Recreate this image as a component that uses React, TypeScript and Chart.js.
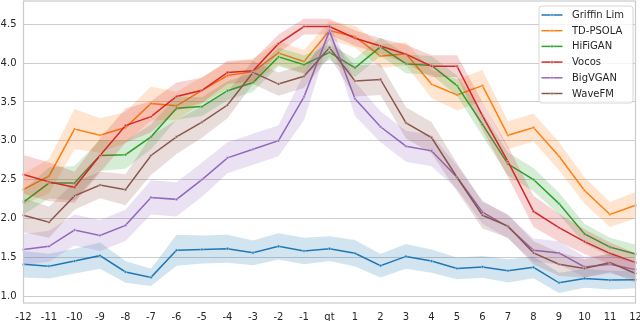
import React, { useEffect, useRef } from 'react';
import { Chart, registerables } from 'chart.js';

Chart.register(...registerables);

const categories = ['-12', '-11', '-10', '-9', '-8', '-7', '-6', '-5', '-4', '-3', '-2', '-1', 'qt', '1', '2', '3', '4', '5', '6', '7', '8', '9', '10', '11', '12'];
const yTicks = [1.0, 1.5, 2.0, 2.5, 3.0, 3.5, 4.0, 4.5];
const seriesNames = ['Griffin Lim', 'TD-PSOLA', 'HiFiGAN', 'Vocos', 'BigVGAN', 'WaveFM'];
const seriesColors = ['#1f77b4', '#ff7f0e', '#2ca02c', '#d62728', '#9467bd', '#8c564b'];

const griffinLim = [1.41, 1.385, 1.45, 1.52, 1.31, 1.24, 1.59, 1.60, 1.61, 1.556, 1.64, 1.58, 1.61, 1.55, 1.39, 1.51, 1.45, 1.355, 1.375, 1.325, 1.37, 1.17, 1.227, 1.205, 1.21];
const griffinLimSpread = [0.17, 0.16, 0.16, 0.17, 0.14, 0.11, 0.2, 0.18, 0.18, 0.16, 0.17, 0.17, 0.16, 0.17, 0.15, 0.16, 0.15, 0.14, 0.14, 0.15, 0.14, 0.13, 0.12, 0.12, 0.11];

const tdPsola = [2.374, 2.545, 3.15, 3.07, 3.17, 3.48, 3.45, 3.65, 3.84, 3.89, 4.13, 4.02, 4.42, 4.34, 4.09, 4.12, 3.73, 3.59, 3.71, 3.07, 3.17, 2.80, 2.36, 2.05, 2.17];
const tdPsolaSpread = [0.2, 0.22, 0.26, 0.22, 0.2, 0.22, 0.18, 0.17, 0.17, 0.17, 0.15, 0.15, 0.12, 0.14, 0.15, 0.15, 0.18, 0.2, 0.2, 0.18, 0.18, 0.18, 0.17, 0.16, 0.17];

const hifigan = [2.21, 2.455, 2.455, 2.81, 2.82, 3.05, 3.42, 3.44, 3.645, 3.75, 4.08, 3.98, 4.14, 3.94, 4.21, 3.99, 3.97, 3.71, 3.21, 2.70, 2.50, 2.19, 1.80, 1.63, 1.54];
const hifiganSpread = [0.16, 0.2, 0.22, 0.2, 0.18, 0.16, 0.15, 0.12, 0.12, 0.12, 0.12, 0.12, 0.1, 0.12, 0.12, 0.12, 0.12, 0.13, 0.15, 0.15, 0.15, 0.14, 0.13, 0.12, 0.12];

const vocos = [2.566, 2.47, 2.40, 2.81, 3.195, 3.31, 3.57, 3.65, 3.88, 3.90, 4.25, 4.47, 4.47, 4.32, 4.22, 4.115, 3.96, 3.96, 3.32, 2.73, 2.09, 1.88, 1.70, 1.55, 1.43];
const vocosSpread = [0.25, 0.25, 0.2, 0.22, 0.22, 0.2, 0.18, 0.16, 0.15, 0.14, 0.12, 0.1, 0.1, 0.1, 0.1, 0.12, 0.14, 0.14, 0.18, 0.2, 0.2, 0.18, 0.16, 0.14, 0.12];

const bigvgan = [1.60, 1.64, 1.85, 1.78, 1.91, 2.27, 2.245, 2.50, 2.78, 2.89, 3.00, 3.565, 4.415, 3.54, 3.18, 2.93, 2.87, 2.53, 2.08, 1.89, 1.59, 1.555, 1.375, 1.41, 1.34];
const bigvganSpread = [0.2, 0.2, 0.2, 0.2, 0.2, 0.22, 0.22, 0.22, 0.2, 0.2, 0.2, 0.3, 0.1, 0.22, 0.2, 0.2, 0.2, 0.15, 0.15, 0.15, 0.15, 0.15, 0.13, 0.12, 0.12];

const wavefm = [2.04, 1.95, 2.29, 2.43, 2.37, 2.81, 3.05, 3.24, 3.46, 3.88, 3.73, 3.83, 4.20, 3.77, 3.79, 3.23, 3.04, 2.53, 2.04, 1.90, 1.555, 1.41, 1.355, 1.43, 1.29];
const wavefmSpread = [0.22, 0.2, 0.18, 0.17, 0.2, 0.25, 0.22, 0.2, 0.17, 0.15, 0.15, 0.15, 0.12, 0.2, 0.2, 0.2, 0.2, 0.18, 0.17, 0.15, 0.15, 0.15, 0.12, 0.12, 0.12];

const seriesMeans = [griffinLim, tdPsola, hifigan, vocos, bigvgan, wavefm];
const seriesSpreads = [griffinLimSpread, tdPsolaSpread, hifiganSpread, vocosSpread, bigvganSpread, wavefmSpread];

function hexToRgba(hex: string, a: number) {
  const n = parseInt(hex.slice(1), 16);
  return `rgba(${(n >> 16) & 255},${(n >> 8) & 255},${n & 255},${a})`;
}

const FONT = '"DejaVu Sans", sans-serif';

const framePlugin = {
  id: 'frame',
  afterDatasetsDraw(chart: any) {
    const { ctx, chartArea } = chart;
    ctx.save();
    ctx.strokeStyle = '#cccccc';
    ctx.lineWidth = 1.25;
    ctx.strokeRect(chartArea.left, chartArea.top, chartArea.right - chartArea.left, chartArea.bottom - chartArea.top);
    ctx.restore();
  },
};

const legendPlugin = {
  id: 'boxLegend',
  afterDraw(chart: any) {
    const { ctx, chartArea } = chart;
    const right = chartArea.right - 3;
    const left = right - 94;
    const top = chartArea.top + 4.5;
    const height = 97;
    ctx.save();
    ctx.beginPath();
    ctx.roundRect(left + 0.5, top + 0.5, right - left, height, 3);
    ctx.fillStyle = 'rgba(255,255,255,0.8)';
    ctx.fill();
    ctx.strokeStyle = '#d6d6d6';
    ctx.lineWidth = 1;
    ctx.stroke();
    ctx.font = `10px ${FONT}`;
    ctx.textBaseline = 'middle';
    seriesNames.forEach((name, i) => {
      const y = top + 9.5 + i * 15.7;
      const color = seriesColors[i];
      ctx.strokeStyle = color;
      ctx.lineWidth = 1.5;
      ctx.beginPath();
      ctx.moveTo(left + 3, y);
      ctx.lineTo(left + 24, y);
      ctx.stroke();
      ctx.beginPath();
      ctx.arc(left + 13.5, y, 1.3, 0, Math.PI * 2);
      ctx.fillStyle = color;
      ctx.fill();
      ctx.strokeStyle = 'rgba(255,255,255,0.8)';
      ctx.lineWidth = 0.6;
      ctx.stroke();
      ctx.fillStyle = '#262626';
      ctx.fillText(name, left + 33.5, y + 0.5);
    });
    ctx.restore();
  },
};

export default function App() {
  const canvasRef = useRef<HTMLCanvasElement | null>(null);

  useEffect(() => {
    document.body.style.margin = '0';
    const canvas = canvasRef.current;
    if (!canvas) return;

    const datasets: any[] = [];
    seriesMeans.forEach((mean, k) => {
      const spread = seriesSpreads[k];
      const color = seriesColors[k];
      const base = datasets.length;
      datasets.push({
        label: seriesNames[k],
        data: mean,
        borderColor: color,
        backgroundColor: color,
        borderWidth: 1.5,
        pointRadius: 1.3,
        pointHoverRadius: 1.3,
        pointBorderColor: 'rgba(255,255,255,0.85)',
        pointBorderWidth: 0.6,
        pointBackgroundColor: color,
        fill: false,
        tension: 0,
        order: 1000 - k * 10,
      });
      datasets.push({
        label: seriesNames[k] + ' upper',
        data: mean.map((v, i) => v + spread[i]),
        borderWidth: 0,
        borderColor: 'transparent',
        pointRadius: 0,
        pointHoverRadius: 0,
        backgroundColor: hexToRgba(color, 0.2),
        fill: base + 2,
        tension: 0,
        order: 1000 - k * 10 - 1,
      });
      datasets.push({
        label: seriesNames[k] + ' lower',
        data: mean.map((v, i) => v - spread[i]),
        borderWidth: 0,
        borderColor: 'transparent',
        pointRadius: 0,
        pointHoverRadius: 0,
        fill: false,
        tension: 0,
        order: 1000 - k * 10 - 2,
      });
    });

    const chart = new Chart(canvas, {
      type: 'line',
      data: { labels: categories, datasets },
      options: {
        animation: false,
        responsive: false,
        devicePixelRatio: 1,
        events: [],
        layout: { autoPadding: false, padding: { top: 1, right: 4.5, left: 0, bottom: 0 } },
        plugins: {
          legend: { display: false },
          tooltip: { enabled: false },
        },
        scales: {
          x: {
            type: 'category',
            offset: false,
            grid: { display: false, drawTicks: false },
            border: { display: false },
            ticks: {
              color: '#262626',
              font: { family: FONT, size: 10 },
              padding: 8,
              maxRotation: 0,
              autoSkip: false,
            },
            afterFit(scale: any) {
              scale.height = 18;
              scale.paddingLeft = 0;
              scale.paddingRight = 0;
            },
          },
          y: {
            min: 0.91,
            max: 4.8,
            grid: { color: '#cccccc', lineWidth: 1, drawTicks: false },
            border: { display: false },
            afterBuildTicks(scale: any) {
              scale.ticks = yTicks.map((v) => ({ value: v }));
            },
            ticks: {
              color: '#262626',
              font: { family: FONT, size: 10 },
              padding: 7,
              callback: (v: any) => Number(v).toFixed(1),
            },
            afterFit(scale: any) {
              scale.width = 23.5;
              scale.paddingTop = 0;
              scale.paddingBottom = 0;
            },
          },
        },
      },
      plugins: [framePlugin, legendPlugin],
    });
    return () => chart.destroy();
  }, []);

  return <canvas ref={canvasRef} width={640} height={321} style={{ display: 'block' }} />;
}
